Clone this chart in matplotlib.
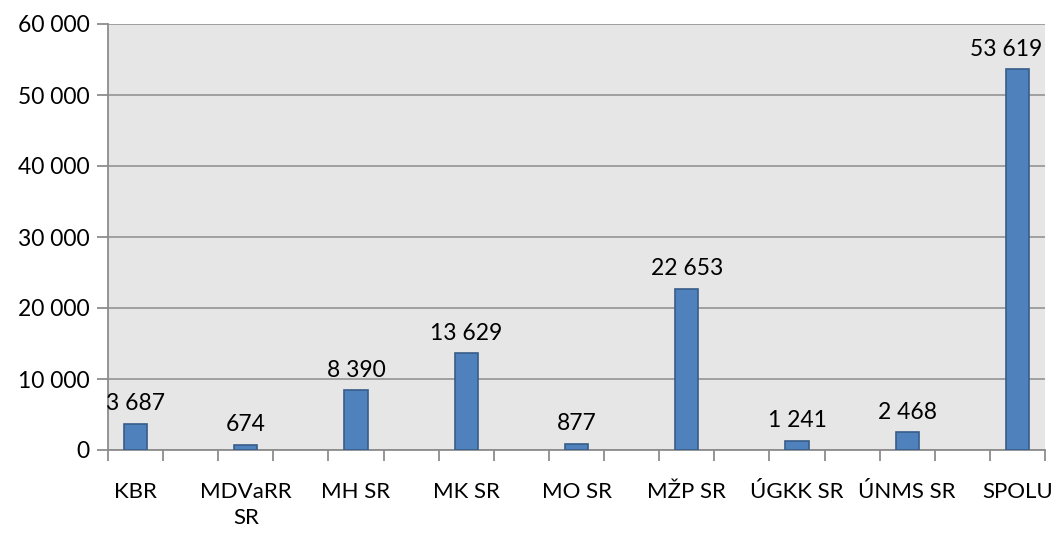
import numpy as np
import matplotlib
matplotlib.use("Agg")
from matplotlib import pyplot as plt
from matplotlib.ticker import FuncFormatter, MultipleLocator

# data
kategorie = ["KBR", "MDVaRR\nSR", "MH SR", "MK SR", "MO SR", "MŽP SR", "ÚGKK SR", "ÚNMS SR", "SPOLU"]
hodnoty = [3687, 674, 8390, 13629, 877, 22653, 1241, 2468, 53619]

plt.rcParams['font.family'] = ['Lato', 'DejaVu Sans']

def medzery(v):
    return f"{int(v):,}".replace(",", " ")

fig = plt.figure(figsize=(10.56, 5.36), dpi=100)
ax = fig.add_axes([108/1056, 1 - 450/536, (1045-108)/1056, (450-24)/536])
ax.set_facecolor("#e6e6e6")

# stlpce stoja na kazdej druhej kategorii (17 kategorii na osi)
pozicie = np.arange(len(kategorie)) * 2
ax.bar(pozicie, hodnoty, width=0.42, color="#4f81bd", edgecolor="#385d8a", linewidth=1.2, zorder=3)

for i, (x, v) in enumerate(zip(pozicie, hodnoty)):
    posun = -8 if i == len(hodnoty) - 1 else 0   # posledny popis je posunuty dolava
    ax.annotate(medzery(v), (x, v), xytext=(posun, 7), textcoords="offset points",
                ha="center", va="bottom", fontsize=16.5, color="black")

ax.set_xlim(-0.5, 16.5)
ax.set_ylim(0, 60000)
ax.yaxis.set_major_locator(MultipleLocator(10000))
ax.yaxis.set_major_formatter(FuncFormatter(lambda v, p: medzery(v)))
ax.grid(axis="y", color="#9a9a9a", linewidth=1.3, zorder=1)

ax.set_xticks(pozicie)
ax.set_xticklabels(kategorie, linespacing=1.4)
ax.set_xticks(np.arange(-0.5, 17, 1), minor=True)
ax.tick_params(axis="x", which="major", length=0, pad=23, labelsize=16)
ax.tick_params(axis="x", which="minor", length=8, width=1.3, color="#8c8c8c")
ax.tick_params(axis="y", length=8, width=1.3, color="#8c8c8c", labelsize=16.5, pad=5)

for s in ["top", "right"]:
    ax.spines[s].set_visible(False)
ax.spines["left"].set_color("#8c8c8c")
ax.spines["bottom"].set_color("#8c8c8c")
ax.spines["left"].set_linewidth(1.3)
ax.spines["bottom"].set_linewidth(1.3)

fig.savefig("out.png", dpi=100)
